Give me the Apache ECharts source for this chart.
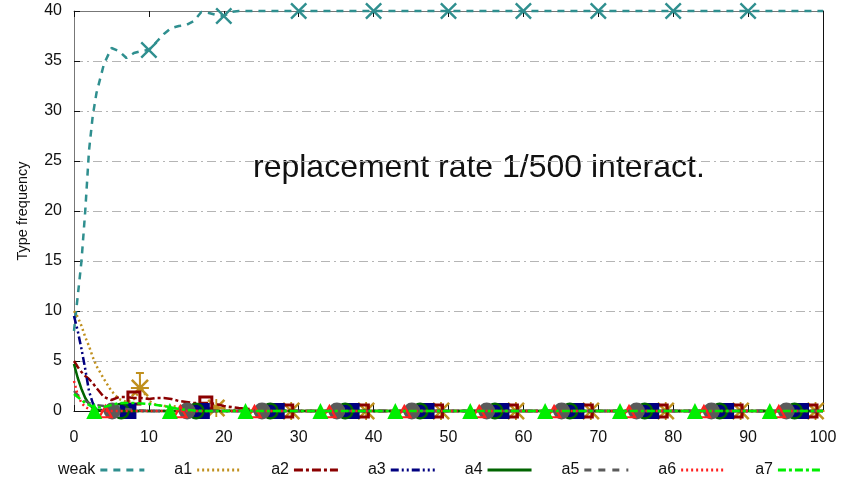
<!DOCTYPE html>
<html><head><meta charset="utf-8">
<script src="https://cdn.jsdelivr.net/npm/echarts@6/dist/echarts.min.js"></script>
<style>html,body{margin:0;padding:0;background:#fff}#c{width:855px;height:495px}</style>
</head><body><div id="c"></div>
<script>
// ---- data ----
const X = [0,0.5,1,1.5,2,2.5,3,4,5,6,7,8,9,10,11,12,13,14,15,16,17,18,19,20,21,22,25,30,40,50,60,70,80,90,100];
const weak = [8,11.5,15,20,26,29.5,31.8,34.7,36.3,36.0,35.3,35.8,36.0,36.1,36.9,37.7,38.3,38.5,38.6,39.0,39.9,39.8,39.6,39.5,39.9,40,40,40,40,40,40,40,40,40,40];
const a1 = [10,9.4,8.5,7.4,6.5,5.4,4.5,3.2,2.0,1.2,0.9,1.2,2.3,1.0,0.6,0.5,0.5,0.4,0.4,0.3,0.3,0.3,0.3,0.2,0.1,0.1,0,0,0,0,0,0,0,0,0];
const a2 = [5,4.4,3.9,3.5,3.2,2.8,2.3,1.4,1.1,1.4,1.4,1.3,1.3,1.2,1.3,1.3,1.2,1.0,0.9,0.8,0.8,0.8,0.7,0.5,0.4,0.3,0.1,0,0,0,0,0,0,0,0];
const a3 = [9.5,8.0,6.2,4.2,2.0,0.8,0.2,0.05,0,0,0,0,0,0,0,0,0,0,0,0,0,0,0,0,0,0,0,0,0,0,0,0,0,0,0];
const a4 = [4.7,3.3,2.2,1.3,0.7,0.3,0.1,0,0,0,0,0,0,0,0,0,0,0,0,0,0,0,0,0,0,0,0,0,0,0,0,0,0,0,0];
const a5 = [2.0,1.6,1.3,1.0,0.8,0.7,0.6,0.5,0.4,0.3,0.2,0.1,0.05,0,0,0,0,0,0,0,0,0,0,0,0,0,0,0,0,0,0,0,0,0,0];
const a6 = [3.0,1.6,0.8,0.4,0.2,0.1,0,0,0,0,0,0,0,0,0,0,0,0,0,0,0,0,0,0,0,0,0,0,0,0,0,0,0,0,0];
const a7 = [1.7,1.4,1.1,0.8,0.6,0.45,0.35,0.4,0.6,0.8,0.8,0.8,0.75,0.7,0.6,0.5,0.35,0.2,0.1,0.05,0,0,0,0,0,0,0,0,0,0,0,0,0,0,0];

// marker points (x, y)
const weakMarkX = [10,20,30,40,50,60,70,80,90];
const weakMarkY = [36.1,39.5,40,40,40,40,40,40,40];
const a1MarkX = [8.8,19,29,39,49,59,69,79,89,99];
const a1MarkY = [2.3,0.3,0,0,0,0,0,0,0,0];
const a2MarkX = [8,17.6,28.4,38.5,48.4,58.4,68.4,78.4,88.4,98.4];
const a2MarkY = [1.3,0.8,0,0,0,0,0,0,0,0];
const a3MarkX = [7.2,17,27,37,47,57,67,77,87,97];
const a3MarkY = [0,0,0,0,0,0,0,0,0,0];
const a4MarkX = [6.3,16.3,26.2,36.2,46.2,56.2,66.2,76.2,86.2,96.2];
const a4MarkY = [0,0,0,0,0,0,0,0,0,0];
const a5MarkX = [5.1,15.1,25.1,35.1,45.1,55.1,65.1,75.1,85.1,95.1];
const a5MarkY = [0,0,0,0,0,0,0,0,0,0];
const a6MarkX = [4.2,14.2,24.1,34.1,44.1,54.1,64.1,74.1,84.1,94.1];
const a6MarkY = [0,0,0,0,0,0,0,0,0,0];
const a7MarkX = [2.7,12.8,22.9,32.9,42.9,52.9,62.9,72.9,82.9,92.9];
const a7MarkY = [0,0,0,0,0,0,0,0,0,0];
// error bars: x, low, high
const a1Err = [[8.8,1.0,3.8]];

const names = ['weak','a1','a2','a3','a4','a5','a6','a7'];
const xTicks = [0,10,20,30,40,50,60,70,80,90,100];
const yTicks = [0,5,10,15,20,25,30,35,40];

// ---- styles ----
const colors = {weak:'#2f8f8f',a1:'#c0901e',a2:'#8b0000',a3:'#000080',a4:'#006400',a5:'#5a5a5a',a6:'#ff2020',a7:'#00ee00'};
const dashes = {weak:[7,6],a1:[2,3],a2:[9,3,3,3],a3:[8,3,2,3,2,3],a4:'solid',a5:[7,7],a6:[2,3],a7:[8,3,3,3]};

function ringPath(r1, r2, n){
  let s = '';
  for(let i=0;i<n;i++){const a=2*Math.PI*i/n; s += (i?'L':'M') + (10+r1*Math.sin(a)).toFixed(2)+','+(10-r1*Math.cos(a)).toFixed(2)+' ';}
  s += 'Z ';
  for(let i=0;i<n;i++){const a=-2*Math.PI*i/n; s += (i?'L':'M') + (10+r2*Math.sin(a)).toFixed(2)+','+(10-r2*Math.cos(a)).toFixed(2)+' ';}
  return 'path://' + s + 'Z';
}
const symX = 'path://M0,2 L2,0 L10,8 L18,0 L20,2 L12,10 L20,18 L18,20 L10,12 L2,20 L0,18 L8,10 Z';
const symAst = 'path://M0,2 L2,0 L10,8 L18,0 L20,2 L12,10 L20,18 L18,20 L10,12 L2,20 L0,18 L8,10 Z M9,0 L11,0 L11,20 L9,20 Z M0,9 L20,9 L20,11 L0,11 Z';
const symOSq = 'path://M0,0 L20,0 L20,20 L0,20 Z M4,4 L4,16 L16,16 L16,4 Z';
const symOCirc = ringPath(10, 7.2, 36);
const symOTri = 'path://M10,0 L20,18 L0,18 Z M10,6 L4.6,15.5 L15.4,15.5 Z';

const lineData = {weak,a1,a2,a3,a4,a5,a6,a7};
const marks = {
  weak:[weakMarkX,weakMarkY,symX,17],
  a1:[a1MarkX,a1MarkY,symAst,18],
  a2:[a2MarkX,a2MarkY,symOSq,15],
  a3:[a3MarkX,a3MarkY,'rect',[17,16]],
  a4:[a4MarkX,a4MarkY,symOCirc,17],
  a5:[a5MarkX,a5MarkY,'circle',17],
  a6:[a6MarkX,a6MarkY,symOTri,16],
  a7:[a7MarkX,a7MarkY,'triangle',16]
};

const series = [];
names.forEach((n,i)=>{
  series.push({
    name:n, type:'line', data:X.map((x,j)=>[x,lineData[n][j]]),
    showSymbol:false, symbol:'none', clip:false, silent:true, animation:false,
    lineStyle:{color:colors[n], width:2.5, type:dashes[n]}, itemStyle:{color:colors[n]},
    z:2+i*2
  });
  const m = marks[n];
  series.push({
    name:n+'_m', type:'scatter', data:m[0].map((x,j)=>[x,m[1][j]]),
    symbol:m[2], symbolSize:m[3], symbolKeepAspect:true, clip:false, silent:true, animation:false,
    itemStyle:{color:colors[n], opacity:1}, z:3+i*2
  });
});
series.push({
  name:'a1_err', type:'custom', data:a1Err, silent:true, animation:false, z:4,
  renderItem:(params, api)=>{
    const p0 = api.coord([api.value(0), api.value(1)]);
    const p1 = api.coord([api.value(0), api.value(2)]);
    return {type:'group', children:[
      {type:'line', shape:{x1:p0[0],y1:p0[1],x2:p1[0],y2:p1[1]}, style:{stroke:colors.a1, lineWidth:2}},
      {type:'line', shape:{x1:p1[0]-4,y1:p1[1],x2:p1[0]+4,y2:p1[1]}, style:{stroke:colors.a1, lineWidth:2}}
    ]};
  }
});

const font = 'Liberation Sans, Arial, sans-serif';
const chart = echarts.init(document.getElementById('c'), null, {renderer:'canvas'});
chart.setOption({
  animation:false,
  backgroundColor:'#fff',
  grid:{left:74, right:32, top:11, bottom:84, containLabel:false},
  xAxis:[{
    type:'value', min:0, max:100, interval:10, position:'bottom',
    axisLine:{show:true, onZero:false, lineStyle:{color:'#111', width:1}},
    axisTick:{show:true, inside:true, length:6, lineStyle:{color:'#111'}},
    axisLabel:{color:'#111', fontSize:16, fontFamily:font, margin:19},
    splitLine:{show:false}
  },{
    type:'value', min:0, max:100, interval:10, position:'top',
    axisLine:{show:true, onZero:false, lineStyle:{color:'#777', width:1}},
    axisTick:{show:true, inside:true, length:6, lineStyle:{color:'#111'}},
    axisLabel:{show:false}, splitLine:{show:false}
  }],
  yAxis:[{
    type:'value', min:0, max:40, interval:5, position:'left',
    name:'Type frequency', nameLocation:'middle', nameGap:44, nameRotate:90,
    nameTextStyle:{color:'#111', fontSize:14.5, fontFamily:font},
    axisLine:{show:true, onZero:false, lineStyle:{color:'#777', width:1}},
    axisTick:{show:true, inside:true, length:6, lineStyle:{color:'#111'}},
    axisLabel:{color:'#111', fontSize:16, fontFamily:font, margin:12},
    splitLine:{show:true, lineStyle:{color:'#b5b5b5', width:1, type:[9,4,2,4]}}
  },{
    type:'value', min:0, max:40, interval:5, position:'right',
    axisLine:{show:true, onZero:false, lineStyle:{color:'#111', width:1}},
    axisTick:{show:false}, axisLabel:{show:false}, splitLine:{show:false}
  }],
  legend:{
    data:names, left:53, top:457, align:'right', orient:'horizontal',
    itemWidth:44, itemHeight:10, itemGap:28.5,
    itemStyle:{opacity:0},
    lineStyle:{width:3},
    textStyle:{color:'#111', fontSize:16, fontFamily:font},
    selectedMode:false
  },
  graphic:[{
    type:'text', left:253, top:152,
    style:{text:'replacement rate 1/500 interact.', fontSize:32, fontFamily:font, fill:'#111'}
  }],
  series:series
});
</script></body></html>
